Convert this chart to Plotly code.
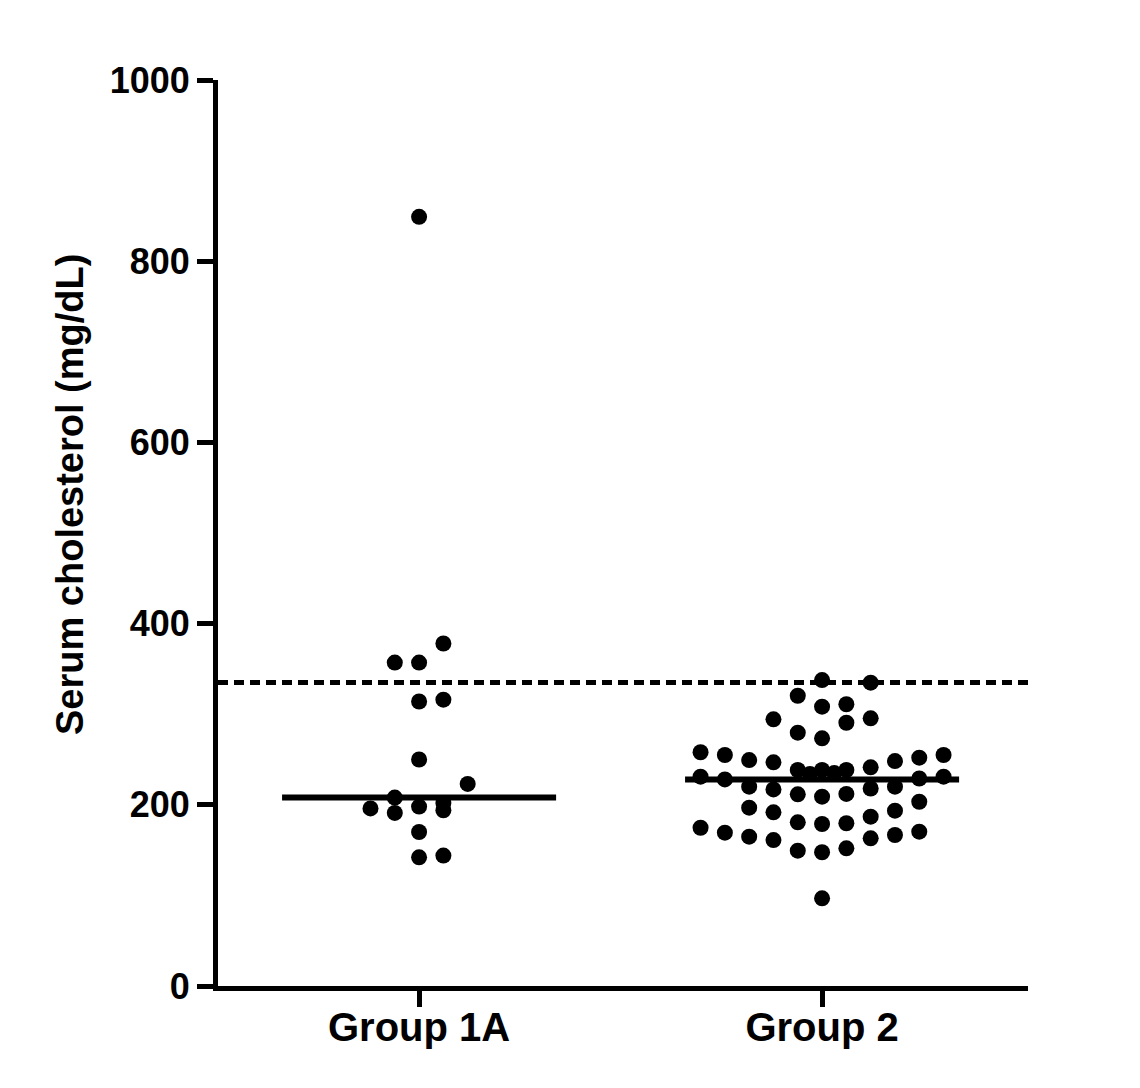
import numpy as np
import plotly.graph_objects as go

categories = ["Group 1A", "Group 2"]

group1a_values = [849, 378, 357, 357, 316, 314, 250, 223, 208, 202, 198, 196, 194, 191, 170, 144, 142]
group1a_slots = [0, 1, -1, 0, 1, 0, 0, 2, -1, 1, 0, -2, 1, -1, 0, 1, 0]

group2_values = [
    337.7, 334.8, 320.4, 308.3, 311.0, 294.3, 290.6, 295.4, 279.6, 273.4,
    258.0, 255.0, 249.4, 246.9, 248.3, 252.0, 255.0,
    238.4, 234.0, 238.4, 235.0, 238.4, 241.4,
    231.0, 228.0, 229.0, 231.0,
    220.0, 217.0, 218.0, 220.0,
    211.6, 209.0, 212.0,
    203.4,
    196.8, 191.7, 193.5,
    186.9,
    180.7, 178.8, 179.6,
    174.7, 169.2, 164.8, 161.1, 163.0, 166.7, 170.3,
    149.4, 147.6, 152.0,
    96.8,
]
group2_slots = [
    0, 2, -1, 0, 1, -2, 1, 2, -1, 0,
    -5, -4, -3, -2, 3, 4, 5,
    -1, -0.5, 0, 0.5, 1, 2,
    -5, -4, 4, 5,
    -3, -2, 2, 3,
    -1, 0, 1,
    4,
    -3, -2, 3,
    2,
    -1, 0, 1,
    -5, -4, -3, -2, 2, 3, 4,
    -1, 0, 1,
    0,
]

threshold = 335
y_ticks = [0, 200, 400, 600, 800, 1000]

SLOT = 0.0603
HALF = 0.34
FONT = "Arial, Liberation Sans, sans-serif"

fig = go.Figure()
groups = [(group1a_values, group1a_slots), (group2_values, group2_slots)]
for i, (vals, slots) in enumerate(groups):
    xs = [i + s * SLOT for s in slots]
    fig.add_trace(go.Scatter(
        x=xs, y=vals, mode="markers",
        marker=dict(color="black", size=16, line=dict(width=0)),
        showlegend=False, hoverinfo="y",
    ))
    med = float(np.median(vals))
    fig.add_trace(go.Scatter(
        x=[i - HALF, i + HALF], y=[med, med], mode="lines",
        line=dict(color="black", width=6),
        showlegend=False, hoverinfo="skip",
    ))

fig.add_shape(type="line", xref="paper", yref="y", x0=0, x1=1,
              y0=threshold, y1=threshold,
              line=dict(color="black", width=5, dash="10px,6px"))

fig.add_annotation(
    text="Serum cholesterol (mg/dL)", textangle=-90,
    xref="paper", yref="paper", x=(70 - 218) / 810, y=(986 - 495) / 906,
    xanchor="center", yanchor="middle", showarrow=False,
    font=dict(family=FONT, size=38, color="black", weight="bold"),
)

fig.update_xaxes(
    range=[-0.499, 1.511], tickvals=[0, 1], ticktext=categories,
    showline=True, linecolor="black", linewidth=5,
    ticks="outside", ticklen=16, tickwidth=5, tickcolor="black",
    ticklabelstandoff=-14,
    showgrid=False, zeroline=False,
    tickfont=dict(family=FONT, size=40, color="black", weight="bold"),
)
fig.update_yaxes(
    range=[0, 1000], tickvals=y_ticks,
    showline=True, linecolor="black", linewidth=5,
    ticks="outside", ticklen=16, tickwidth=5, tickcolor="black",
    showgrid=False, zeroline=False,
    tickfont=dict(family=FONT, size=36, color="black", weight="bold"),
)

fig.update_layout(
    width=1140, height=1088,
    margin=dict(l=218, r=112, t=80, b=102),
    plot_bgcolor="white", paper_bgcolor="white",
)

fig.write_html(
    "out.html",
    config={"displayModeBar": False},
    post_script="document.body.style.margin='0';document.body.style.overflow='hidden';",
)
